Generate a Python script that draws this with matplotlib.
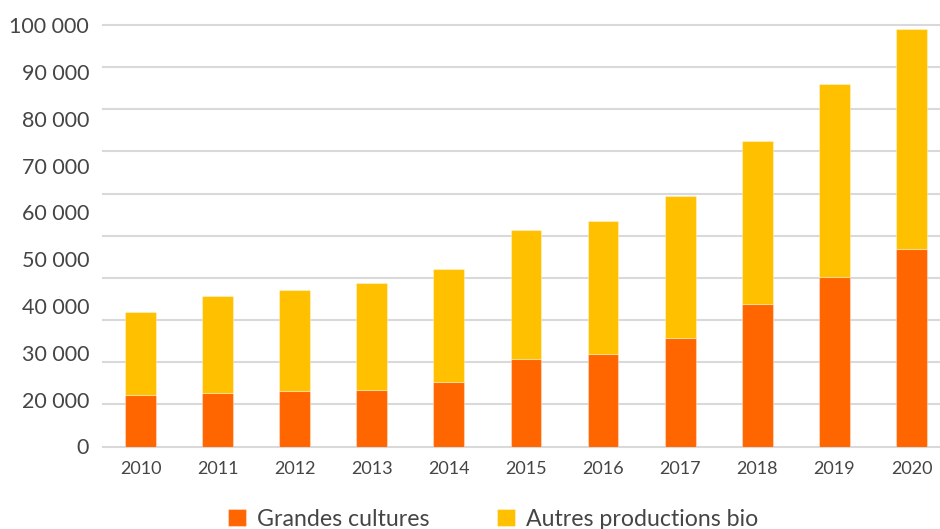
import matplotlib
matplotlib.use("Agg")
import matplotlib.pyplot as plt
import matplotlib.transforms as mtransforms
import numpy as np

years = ["2010", "2011", "2012", "2013", "2014", "2015", "2016", "2017", "2018", "2019", "2020"]
grandes_cultures = [12100, 12800, 13200, 13500, 15400, 20800, 22000, 25700, 33700, 40300, 46800]
totals = [31800, 35800, 37100, 38900, 42000, 51400, 53500, 59500, 72500, 86000, 99000]
autres = [t - g for t, g in zip(totals, grandes_cultures)]
ytick_labels = ["100 000", "90 000", "80 000", "70 000", "60 000", "50 000",
                "40 000", "30 000", "20 000", "0"]
series_names = ["Grandes cultures", "Autres productions bio"]
colors = ["#FF6600", "#FFC000"]

plt.rcParams["font.family"] = ["Lato", "DejaVu Sans"]
text_color = "#454545"

fig = plt.figure(figsize=(9.4, 5.29), dpi=100)
ax = fig.add_axes([103/940, 1 - 446.5/529, 1 - 103/940, (446.5 - 25)/529])

x = np.arange(len(years))
w = 0.40
b1 = ax.bar(x, grandes_cultures, width=w, color=colors[0], edgecolor=(1, 1, 1, 0.35),
            linewidth=0.8, label=series_names[0], zorder=3)
b2 = ax.bar(x, autres, width=w, bottom=grandes_cultures, color=colors[1],
            edgecolor=(1, 1, 1, 0.35), linewidth=0.8, label=series_names[1], zorder=3)

ax.set_xlim(-0.486, 10.37)
ax.set_ylim(0, 100000)

for v in range(0, 100001, 10000):
    ax.axhline(v, color="#D9D9D9", linewidth=1.5, zorder=1, clip_on=False)

# y labels: evenly spaced (as in the reference, no "10 000")
pos = np.linspace(100000, 0, len(ytick_labels))
ax.set_yticks(pos)
ax.set_yticklabels(ytick_labels, fontsize=15.5, color=text_color)
offset = mtransforms.ScaledTranslation(0, 4/100, fig.dpi_scale_trans)
for lab in ax.get_yticklabels():
    lab.set_transform(lab.get_transform() + offset)
ax.tick_params(axis="y", length=0, pad=10)

ax.set_xticks(x)
ax.set_xticklabels(years, fontsize=13, color=text_color)
ax.tick_params(axis="x", length=0, pad=10.5)

for s in ax.spines.values():
    s.set_visible(False)

fig.legend(handles=[b1, b2], labels=series_names, loc="center",
           bbox_to_anchor=(493/940, 1 - 519/529), ncol=2, frameon=False,
           fontsize=16.7, handlelength=0.78, handleheight=0.78,
           handletextpad=0.47, columnspacing=2.9, labelcolor=text_color)

fig.savefig("out.png", dpi=100)
